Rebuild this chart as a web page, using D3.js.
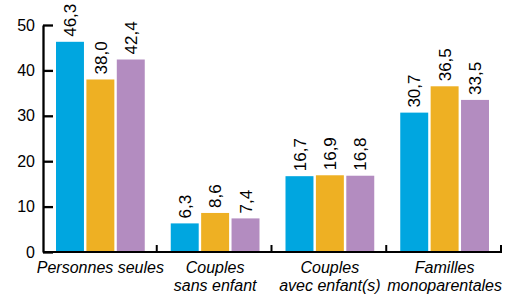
<!DOCTYPE html>
<html>
<head>
    <meta charset="utf-8">
    <title>menages</title>
    <style>
        body {
            margin: 0;
            padding: 0;
            background: #ffffff;
        }
        svg text {
            font-family: "Liberation Sans", Arial, sans-serif;
            fill: #000000;
        }
    </style>
</head>
<body>
    <svg id="chart" width="512" height="296"></svg>

    <script src="https://d3js.org/d3.v7.min.js"></script>
    <script>
        // data
        const categories = [
            ['Personnes seules'],
            ['Couples', 'sans enfant'],
            ['Couples', 'avec enfant(s)'],
            ['Familles', 'monoparentales']
        ];
        const series = ['s1', 's2', 's3'];
        const values1 = [46.3, 6.3, 16.7, 30.7];
        const values2 = [38.0, 8.6, 16.9, 36.5];
        const values3 = [42.4, 7.4, 16.8, 33.5];
        const yTicks = [0, 10, 20, 30, 40, 50];
        const colors = ['#00a6e0', '#eeb023', '#b38cc0'];

        const svg = d3.select('#chart');
        const plotLeft = 43, plotRight = 502, plotTop = 25, plotBottom = 252;

        const x0 = d3.scaleBand()
            .domain(d3.range(categories.length))
            .range([plotLeft, plotRight]);

        const x1 = d3.scaleBand()
            .domain(series)
            .range([13, x0.bandwidth() - 13])
            .paddingInner(0.08);

        const y = d3.scaleLinear()
            .domain([0, 50])
            .range([plotBottom, plotTop]);

        const allValues = [values1, values2, values3];

        // bars
        const groups = svg.append('g')
            .selectAll('g')
            .data(d3.range(categories.length))
            .join('g')
            .attr('transform', i => `translate(${x0(i)},0)`);

        groups.selectAll('rect')
            .data(i => series.map((s, k) => ({ s: s, k: k, v: allValues[k][i] })))
            .join('rect')
            .attr('x', d => x1(d.s))
            .attr('y', d => y(d.v))
            .attr('width', x1.bandwidth())
            .attr('height', d => y(0) - y(d.v))
            .attr('fill', d => colors[d.k]);

        // value labels, rotated
        groups.selectAll('text')
            .data(i => series.map((s, k) => ({ s: s, k: k, v: allValues[k][i] })))
            .join('text')
            .attr('transform', d => `translate(${x1(d.s) + x1.bandwidth() / 2},${y(d.v) - 5}) rotate(-90)`)
            .attr('dy', '0.36em')
            .style('font-size', '17px')
            .text(d => d.v.toFixed(1).replace('.', ','));

        // y axis
        const yAxis = svg.append('g')
            .attr('transform', `translate(${plotLeft},0)`)
            .call(d3.axisLeft(y)
                .tickValues(yTicks)
                .tickSizeInner(-10)
                .tickSizeOuter(0)
                .tickPadding(8));
        yAxis.select('.domain').attr('stroke', '#000').attr('stroke-width', 2.3);
        yAxis.selectAll('.tick line').attr('stroke', '#000').attr('stroke-width', 2.3);
        yAxis.selectAll('.tick text')
            .style('font-size', '16px')
            .style('font-family', '"Liberation Sans", Arial, sans-serif')
            .attr('fill', '#000');

        // x baseline with separators
        svg.append('line')
            .attr('x1', plotLeft)
            .attr('x2', plotRight)
            .attr('y1', y(0))
            .attr('y2', y(0))
            .attr('stroke', '#000')
            .attr('stroke-width', 2);

        const seps = d3.range(1, categories.length + 1).map(i => i < categories.length ? x0(i) : x0.range()[1]);
        svg.append('g')
            .selectAll('line')
            .data(seps)
            .join('line')
            .attr('x1', d => d - 1)
            .attr('x2', d => d - 1)
            .attr('y1', y(0))
            .attr('y2', y(0) - 7)
            .attr('stroke', '#000')
            .attr('stroke-width', 2);

        // category labels
        const cat = svg.append('g')
            .selectAll('text')
            .data(categories)
            .join('text')
            .attr('text-anchor', 'middle')
            .style('font-size', '16px')
            .style('font-style', 'italic');
        cat.selectAll('tspan')
            .data((d, i) => d.map(t => ({ t: t, i: i })))
            .join('tspan')
            .attr('x', d => x0(d.i) + x0.bandwidth() / 2)
            .attr('y', (d, j) => 273 + j * 18)
            .text(d => d.t);
    </script>
</body>
</html>
